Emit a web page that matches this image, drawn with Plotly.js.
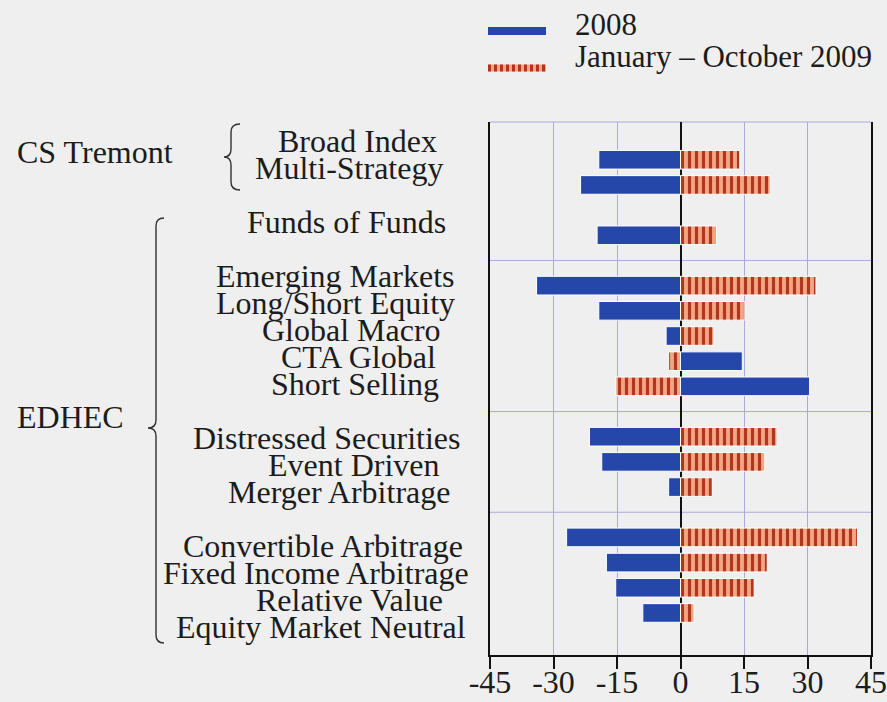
<!DOCTYPE html>
<html>
<head>
<meta charset="utf-8">
<script src="https://cdn.plot.ly/plotly-3.0.1.min.js"></script>
<style>
  html, body { margin: 0; padding: 0; background: #efefef; }
  #chart { width: 887px; height: 702px; }
</style>
</head>
<body>
<div id="chart"></div>
<script>
// ------------------------------
// Data
// ------------------------------

const categories = [
  "Broad Index", "Multi-Strategy", "Funds of Funds",
  "Emerging Markets", "Long/Short Equity", "Global Macro", "CTA Global", "Short Selling",
  "Distressed Securities", "Event Driven", "Merger Arbitrage",
  "Convertible Arbitrage", "Fixed Income Arbitrage", "Relative Value", "Equity Market Neutral"
];

const returns2008 = [-19.3, -23.6, -19.7, -34.0, -19.3, -3.4, 14.6, 30.5, -21.5, -18.6, -2.8, -26.9, -17.5, -15.3, -8.9];
const returns2009 = [14.0, 21.2, 8.5, 32.0, 15.2, 7.9, -2.8, -15.3, 22.8, 19.9, 7.5, 41.8, 20.5, 17.4, 3.2];

// row order top to bottom, with spacer rows ("_rule" rows carry a separator line)
const rowOrder = [
  "Broad Index", "Multi-Strategy", "_blank", "Funds of Funds", "_rule1",
  "Emerging Markets", "Long/Short Equity", "Global Macro", "CTA Global", "Short Selling", "_rule2",
  "Distressed Securities", "Event Driven", "Merger Arbitrage", "_rule3",
  "Convertible Arbitrage", "Fixed Income Arbitrage", "Relative Value", "Equity Market Neutral"
];

const seriesNames = ["2008", "January \u2013 October 2009"];
const groupNames = ["CS Tremont", "EDHEC"];
const tickVals = [-45, -30, -15, 0, 15, 30, 45];
const tickText = ["-45", "-30", "-15", "0", "15", "30", "45"];

// ------------------------------
// Styling
// ------------------------------

const FONT = "Liberation Serif, Times New Roman, serif";
const INK = "#1c1c1c";
const BLUE = "#2547a9";
const RED_DARK = "#b0361f";
const RED_LIGHT = "#f4a584";
const GRID = "#a9a9dd";
const BG = "#efefef";
const LABEL_SIZE = 32;

const W = 887, H = 702;
const M = { l: 490, r: 16, t: 122, b: 47 };
const plotW = W - M.l - M.r;
const plotH = H - M.t - M.b;

// pixel -> paper helpers for decorations outside the plot
const px = x => (x - M.l) / plotW;
const py = y => (H - M.b - y) / plotH;

function bracePath(xTip, yTip, xStem, xArm, yTop, yBot) {
  const r = 8;
  const p = (x, y) => `${px(x)},${py(y)}`;
  return `M${p(xArm, yTop)} Q${p(xStem, yTop)} ${p(xStem, yTop + r)} ` +
    `L${p(xStem, yTip - r)} Q${p(xStem, yTip)} ${p(xTip, yTip)} ` +
    `Q${p(xStem, yTip)} ${p(xStem, yTip + r)} ` +
    `L${p(xStem, yBot - r)} Q${p(xStem, yBot)} ${p(xArm, yBot)}`;
}

// measure label widths so the text block lines up like the original
const ctx = document.createElement("canvas").getContext("2d");
ctx.font = `${LABEL_SIZE}px "Liberation Serif"`;
const labelWidths = categories.map(c => ctx.measureText(c).width);

const rowY = categories.map(c => rowOrder.indexOf(c));

const traces = [
  {
    type: "bar",
    orientation: "h",
    name: seriesNames[0],
    x: returns2008,
    y: rowY,
    width: 0.74,
    marker: { color: BLUE, line: { color: "#ffffff", width: 1 } },
    hovertemplate: "%{text}<br>%{x}<extra>" + seriesNames[0] + "</extra>",
    text: categories,
    textposition: "none",
  },
  {
    type: "bar",
    orientation: "h",
    name: seriesNames[1],
    x: returns2009,
    y: rowY,
    width: 0.74,
    marker: {
      color: RED_LIGHT,
      line: { color: "#ffffff", width: 1 },
      pattern: { shape: "|", fgcolor: RED_DARK, bgcolor: RED_LIGHT, size: 7, solidity: 0.45 },
    },
    hovertemplate: "%{text}<br>%{x}<extra>" + seriesNames[1] + "</extra>",
    text: categories,
    textposition: "none",
  },
];

// ------------------------------
// Shapes: separators, braces, legend samples
// ------------------------------

const shapes = [];

shapes.push({
  type: "line", xref: "paper", yref: "paper", x0: 0, x1: 1, y0: 1, y1: 1,
  line: { color: GRID, width: 1 }, layer: "below",
});
rowOrder.forEach((r, i) => {
  if (r.startsWith("_rule")) {
    shapes.push({
      type: "line", xref: "paper", yref: "y", x0: 0, x1: 1, y0: i, y1: i,
      line: { color: GRID, width: 1 }, layer: "below",
    });
  }
});

shapes.push({
  type: "path", xref: "paper", yref: "paper",
  path: bracePath(224, 157, 231, 240, 124, 190),
  line: { color: "#333333", width: 1.4 },
});
shapes.push({
  type: "path", xref: "paper", yref: "paper",
  path: bracePath(148, 428, 156, 164, 218, 643),
  line: { color: "#333333", width: 1.4 },
});

// legend samples
shapes.push({
  type: "line", xref: "paper", yref: "paper",
  x0: px(488), x1: px(546), y0: py(31), y1: py(31),
  line: { color: BLUE, width: 8 },
});
shapes.push({
  type: "line", xref: "paper", yref: "paper",
  x0: px(488), x1: px(546), y0: py(68), y1: py(68),
  line: { color: RED_LIGHT, width: 7 },
});
shapes.push({
  type: "line", xref: "paper", yref: "paper",
  x0: px(488), x1: px(546), y0: py(68), y1: py(68),
  line: { color: RED_DARK, width: 7, dash: "3px,3px" },
});

// ------------------------------
// Annotations
// ------------------------------

// labels sit on their own (slightly looser) row scale, as in the original
const annotations = categories.map((c, i) => ({
  xref: "paper", yref: "y2",
  x: px(402), y: rowY[i],
  xshift: -0.28 * labelWidths[i],
  text: c, showarrow: false,
  xanchor: "center", yanchor: "middle",
  font: { family: FONT, size: LABEL_SIZE, color: INK },
}));

annotations.push({
  xref: "paper", yref: "paper", x: px(15), y: py(152),
  text: groupNames[0], showarrow: false, xanchor: "left", yanchor: "middle",
  font: { family: FONT, size: LABEL_SIZE, color: INK },
});
annotations.push({
  xref: "paper", yref: "paper", x: px(15), y: py(417),
  text: groupNames[1], showarrow: false, xanchor: "left", yanchor: "middle",
  font: { family: FONT, size: LABEL_SIZE, color: INK },
});

annotations.push({
  xref: "paper", yref: "paper", x: px(573), y: py(25),
  text: seriesNames[0], showarrow: false, xanchor: "left", yanchor: "middle",
  font: { family: FONT, size: 31, color: INK },
});
annotations.push({
  xref: "paper", yref: "paper", x: px(573), y: py(56),
  text: seriesNames[1], showarrow: false, xanchor: "left", yanchor: "middle",
  font: { family: FONT, size: 31, color: INK },
});

const layout = {
  width: W,
  height: H,
  margin: M,
  paper_bgcolor: BG,
  plot_bgcolor: BG,
  showlegend: false,
  barmode: "overlay",
  font: { family: FONT, color: INK },
  xaxis: {
    range: [-45, 45],
    tickmode: "array",
    tickvals: tickVals,
    ticktext: tickText,
    tickfont: { family: FONT, size: 32, color: INK },
    ticklabelstandoff: -14,
    ticklabeloverflow: "allow",
    showgrid: true,
    gridcolor: GRID,
    gridwidth: 1,
    zeroline: true,
    zerolinecolor: "#111111",
    zerolinewidth: 2,
    showline: true,
    linecolor: "#111111",
    linewidth: 2,
    ticks: "outside",
    ticklen: 12,
    tickwidth: 2,
    tickcolor: "#111111",
    fixedrange: true,
  },
  yaxis: {
    range: [19.67, -1.5],
    showgrid: false,
    zeroline: false,
    showticklabels: false,
    ticks: "",
    showline: true,
    mirror: true,
    linecolor: "#111111",
    linewidth: 2,
    fixedrange: true,
  },
  yaxis2: {
    overlaying: "y",
    range: [19.04, -0.704],
    visible: false,
    fixedrange: true,
  },
  shapes,
  annotations,
};

Plotly.newPlot("chart", traces, layout, { displayModeBar: false, responsive: false });
</script>
</body>
</html>
